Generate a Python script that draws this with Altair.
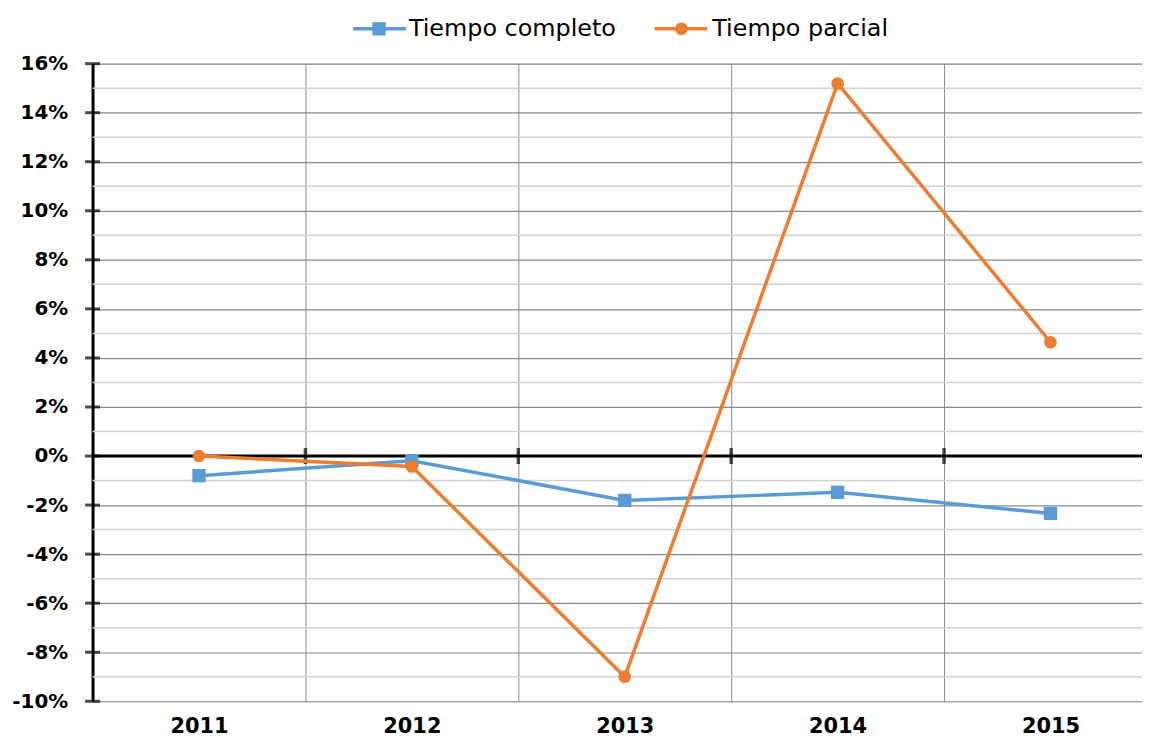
import altair as alt
import pandas as pd

years = [2011, 2012, 2013, 2014, 2015]
series = ["Tiempo completo", "Tiempo parcial"]
completo = [-0.80, -0.19, -1.81, -1.48, -2.34]
parcial = [0.0, -0.43, -9.0, 15.19, 4.64]
colors = ["#5B9BD5", "#ED7D31"]
boundaries = [2011.5, 2012.5, 2013.5, 2014.5]
major_ticks = list(range(-10, 17, 2))
minor_ticks = list(range(-9, 16, 2))

rows = []
for s, vals in zip(series, [completo, parcial]):
    for yr, v in zip(years, vals):
        rows.append({"year": yr, "series": s, "value": v})
df = pd.DataFrame(rows)

FONT = "DejaVu Sans"
X_MIN = 2010.5

x_scale = alt.Scale(domain=[X_MIN, 2015.43], nice=False, zero=False)
y_scale = alt.Scale(domain=[-10, 16], nice=False, zero=False)

x_vals = sorted(years + boundaries)

x_axis = alt.Axis(
    values=x_vals,
    labelExpr="datum.value % 1 == 0 ? '' + datum.value : ''",
    grid=True,
    gridColor="#8c8c8c",
    gridWidth=1,
    gridOpacity={"condition": {"test": "datum.value % 1 != 0", "value": 1}, "value": 0},
    ticks=False,
    domain=False,
    labelFont=FONT,
    labelFontSize=21,
    labelFontWeight="bold",
    labelColor="black",
    labelPadding=14,
    labelFlush=False,
    labelOverlap=False,
    title=None,
)

y_axis = alt.Axis(
    values=major_ticks,
    labelExpr="datum.value + '%'",
    grid=True,
    gridColor="#8a8a8a",
    gridWidth=1.2,
    ticks=False,
    domain=True,
    domainColor="black",
    domainWidth=3,
    labelFont=FONT,
    labelFontSize=20,
    labelFontWeight="bold",
    labelColor="black",
    labelPadding=25,
    labelOverlap=False,
    labelFlush=False,
    title=None,
)

base = alt.Chart(df)

color = alt.Color("series:N", scale=alt.Scale(domain=series, range=colors), legend=None)

minor_df = pd.DataFrame({"m": minor_ticks})
minor_grid = alt.Chart(minor_df).mark_rule(color="#d2d2d2", strokeWidth=1.5).encode(y=alt.Y("m:Q"))

lines = base.mark_line(strokeWidth=3.5).encode(
    x=alt.X("year:Q", scale=x_scale, axis=x_axis),
    y=alt.Y("value:Q", scale=y_scale, axis=y_axis),
    color=color,
)

points = base.mark_point(filled=True, opacity=1).encode(
    x=alt.X("year:Q"),
    y=alt.Y("value:Q"),
    color=color,
    shape=alt.Shape("series:N", scale=alt.Scale(domain=series, range=["square", "circle"]), legend=None),
    size=alt.Size("series:N", scale=alt.Scale(domain=series, range=[180, 160]), legend=None),
)

zero_df = pd.DataFrame({"v": [0]})
zero_line = alt.Chart(zero_df).mark_rule(color="black", strokeWidth=3).encode(y=alt.Y("v:Q"))

tick_df = pd.DataFrame({"b": boundaries, "z": [0] * len(boundaries)})
zero_ticks = alt.Chart(tick_df).mark_tick(orient="vertical", size=16, thickness=3.5, color="black").encode(
    x=alt.X("b:Q"), y=alt.Y("z:Q")
)

ytick_df = pd.DataFrame({"t": major_ticks, "x0": [X_MIN] * len(major_ticks)})
y_ticks_marks = alt.Chart(ytick_df).mark_tick(orient="horizontal", size=15, thickness=3, color="black").encode(
    x=alt.X("x0:Q"), y=alt.Y("t:Q")
)

# manual legend (layout positions relative to plot origin)
leg_y = -35
leg_layers = []
leg_pos = [(262, 315, 288, 318), (565, 618, 592, 623)]
for s, c, shp, sz, (x1, x2, xm, xt) in zip(series, colors, ["square", "circle"], [180, 160], leg_pos):
    leg_layers.append(
        alt.Chart(zero_df).mark_rule(color=c, strokeWidth=3.5).encode(
            x=alt.value(x1), x2=alt.value(x2), y=alt.value(leg_y)
        )
    )
    leg_layers.append(
        alt.Chart(zero_df).mark_point(filled=True, opacity=1, color=c, shape=shp, size=sz).encode(
            x=alt.value(xm), y=alt.value(leg_y)
        )
    )
    leg_layers.append(
        alt.Chart(zero_df).mark_text(align="left", baseline="middle", font=FONT, fontSize=24, color="black").encode(
            x=alt.value(xt), y=alt.value(leg_y), text=alt.datum(s)
        )
    )

chart = alt.layer(minor_grid, zero_line, zero_ticks, y_ticks_marks, lines, points, *leg_layers).properties(
    width=1055,
    height=641,
    padding={"left": 85, "top": 54, "right": 0, "bottom": 36},
    autosize=alt.AutoSizeParams(type="none"),
).configure_view(stroke=None).configure(background="white")

chart.save("out.html", embed_options={"renderer": "svg", "actions": False})
